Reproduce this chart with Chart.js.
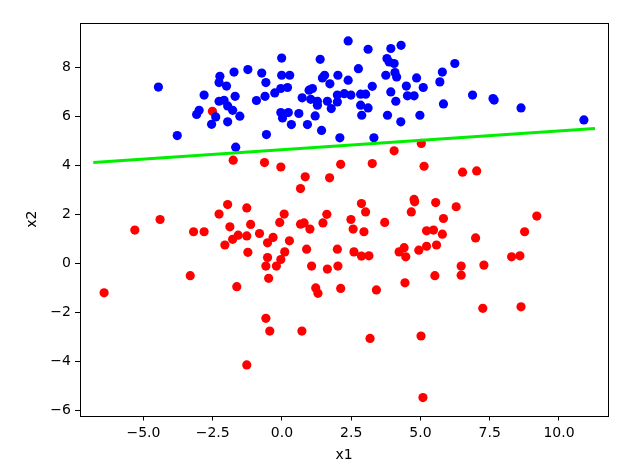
<!DOCTYPE html>
<html>
<head>
<meta charset="utf-8">
<script src="https://cdn.jsdelivr.net/npm/chart.js@4.4.1/dist/chart.umd.min.js"></script>
<style>
  html, body { margin: 0; padding: 0; background: #fff; }
  #wrap { width: 644px; height: 471px; }
</style>
</head>
<body>
<div id="wrap"><canvas id="chart" width="644" height="471"></canvas></div>
<script>
// class 1 (blue) points
const blueX = [-4.46, -3.78, -2.81, -2.99, -3.08, -2.39, -2.54, -2.24, -2.27, -2.00,
  -1.73, -1.23, -0.73, -0.58, -1.69, -2.27, -2.09, -1.96, -1.78, -1.52,
  -1.96, -0.92, -0.61, -0.56, -1.67, -0.01, -0.01, 0.28, 0.20, -0.04,
  -0.26, -0.04, 0.02, 0.23, 0.34, 0.61, 0.92, 0.73, 0.98, 1.10,
  1.04, 1.28, 1.28, 1.20, 1.43, 1.38, 1.46, 1.54, 1.73, 2.02,
  2.39, 1.64, 1.78, 2.00, 2.00, 2.25, 2.49, 2.09, 2.39, 2.76,
  2.84, 3.02, 2.84, 3.11, 2.88, 3.26, 3.11, 3.32, 3.93, 4.30,
  3.79, 3.87, 4.05, 3.75, 4.08, 4.14, 3.93, 4.11, 3.81, 4.29,
  4.49, 4.86, 5.10, 4.53, 4.77, 4.98, 5.79, 5.70, 5.83, 6.24,
  6.88, 7.62, 7.66, 8.63, 10.90];
const blueY = [7.19, 5.21, 6.86, 6.24, 6.07, 5.97, 5.67, 7.63, 7.37, 7.23,
  7.80, 7.90, 7.76, 7.37, 6.81, 6.61, 6.65, 6.42, 6.24, 6.00,
  5.77, 6.64, 6.81, 5.25, 4.74, 8.37, 7.67, 7.67, 7.17, 7.13,
  6.95, 6.15, 5.93, 6.15, 5.66, 6.11, 5.66, 6.75, 7.06, 7.13,
  6.69, 6.61, 6.45, 6.01, 5.42, 8.32, 7.56, 7.67, 7.32, 7.67,
  7.47, 6.61, 6.31, 6.86, 6.58, 6.92, 6.86, 5.12, 9.07, 7.94,
  6.90, 6.90, 6.45, 6.34, 6.04, 7.22, 8.73, 5.12, 8.76, 8.89,
  8.35, 8.21, 8.15, 7.67, 7.78, 7.60, 6.99, 6.61, 6.04, 5.77,
  7.23, 7.56, 7.17, 6.83, 6.83, 6.04, 7.80, 7.40, 6.50, 8.15,
  6.86, 6.72, 6.66, 6.34, 5.85];

// class 0 (red) points
const redX = [-2.51, -1.76, -0.63, -1.96, -2.27, -1.27, -4.40, -5.31, -3.19, -2.81,
  -1.88, -1.13, -0.81, -1.58, -1.27, -1.78, -2.06, -1.23, -0.52, -0.52,
  -0.58, -0.48, -3.31, -6.42, -1.63, -0.04, 2.12, 3.26, 4.05, 5.13,
  5.03, 0.84, 1.72, 0.67, 2.87, 3.02, 2.49, 2.57, 2.96, 3.71,
  4.77, 4.79, 4.67, 5.55, 5.83, 5.22, 5.47, 5.79, 0.08, -0.08,
  -0.32, 0.27, 0.67, 0.80, 1.01, 1.62, 1.48, 0.10, -0.04, -0.20,
  0.89, 1.07, 1.64, 2.02, 2.00, 2.60, 2.87, 3.14, 4.23, 4.41,
  4.47, 4.94, 5.22, 5.58, 5.52, 4.44, 1.22, 1.30, 2.12, 3.41,
  6.52, 7.03, 6.29, 6.99, 9.20, 8.76, 8.29, 8.59, 7.29, 6.47,
  6.47, -0.58, -0.44, -1.27, 0.72, 3.18, 5.02, 5.09, 7.25, 8.63];
const redY = [6.20, 4.21, 4.11, 2.40, 2.01, 2.26, 1.79, 1.36, 1.29, 1.29,
  1.49, 1.59, 1.22, 1.15, 1.12, 0.98, 0.75, 0.45, 0.84, 0.24,
  -0.11, -0.61, -0.50, -1.20, -0.95, 3.93, 4.04, 4.07, 4.59, 3.96,
  4.89, 3.53, 3.49, 3.05, 2.44, 2.10, 1.79, 1.40, 1.29, 1.67,
  2.61, 2.51, 2.10, 2.48, 1.83, 1.33, 1.36, 1.19, 2.01, 1.67,
  1.06, 0.92, 1.60, 1.65, 1.40, 2.00, 1.65, 0.47, 0.16, -0.11,
  0.58, -0.11, -0.23, -0.11, 0.58, 0.47, 0.30, 0.31, 0.47, 0.64,
  0.27, 0.54, 0.70, 0.75, -0.50, -0.79, -1.00, -1.22, -1.02, -1.08,
  3.72, 3.77, 2.31, 1.04, 1.93, 1.29, 0.27, 0.31, -0.07, -0.11,
  -0.48, -2.24, -2.76, -4.14, -2.76, -3.06, -2.96, -5.47, -1.83, -1.77];

// decision boundary
const lineX = [-6.81, 11.30];
const lineY = [4.11, 5.50];

const xTicks = [-5, -2.5, 0, 2.5, 5, 7.5, 10];
const yTicks = [-6, -4, -2, 0, 2, 4, 6, 8];

const zip = (xs, ys) => xs.map((x, i) => ({ x: x, y: ys[i] }));
const minus = s => s.replace('-', '\u2212');
const FONT = { family: 'DejaVu Sans', size: 14 };

// full box around the plot, like matplotlib spines
const frame = {
  id: 'frame',
  afterDatasetsDraw(chart) {
    const { ctx, chartArea: a } = chart;
    ctx.save();
    ctx.strokeStyle = '#000';
    ctx.lineWidth = 1;
    ctx.strokeRect(Math.round(a.left) + 0.5, Math.round(a.top) + 0.5,
      Math.round(a.right - a.left), Math.round(a.bottom - a.top));
    ctx.restore();
  }
};

new Chart(document.getElementById('chart'), {
  type: 'scatter',
  data: {
    datasets: [
      {
        label: 'boundary',
        data: zip(lineX, lineY),
        showLine: true,
        borderColor: '#00ee00',
        borderWidth: 3,
        pointRadius: 0,
        fill: false
      },
      {
        label: 'class 1',
        data: zip(blueX, blueY),
        backgroundColor: '#0000ff',
        borderWidth: 0,
        pointRadius: 4.6
      },
      {
        label: 'class 0',
        data: zip(redX, redY),
        backgroundColor: '#ff0000',
        borderWidth: 0,
        pointRadius: 4.6
      }
    ]
  },
  options: {
    responsive: false,
    animation: false,
    devicePixelRatio: 1,
    layout: { padding: { top: 23, right: 36, left: 0, bottom: 0 } },
    plugins: { legend: { display: false }, tooltip: { enabled: false } },
    scales: {
      x: {
        type: 'linear',
        min: -7.29,
        max: 11.77,
        afterBuildTicks: s => { s.ticks = xTicks.map(v => ({ value: v })); },
        afterFit: s => { s.height = 55.5; },
        border: { display: false },
        grid: { drawOnChartArea: false, drawTicks: true, tickLength: 5, color: '#000' },
        ticks: {
          color: '#000',
          font: FONT,
          padding: 4,
          maxRotation: 0,
          callback: v => minus(Number(v).toFixed(1))
        },
        title: { display: true, text: 'x1', color: '#000', font: FONT, padding: { top: 0, bottom: 7 } }
      },
      y: {
        type: 'linear',
        min: -6.2,
        max: 9.8,
        afterBuildTicks: s => { s.ticks = yTicks.map(v => ({ value: v })); },
        afterFit: s => { s.width = 80; },
        border: { display: false },
        grid: { drawOnChartArea: false, drawTicks: true, tickLength: 5, color: '#000' },
        ticks: {
          color: '#000',
          font: FONT,
          padding: 4,
          callback: v => minus(String(v))
        },
        title: { display: true, text: 'x2', color: '#000', font: FONT, padding: { top: 24, bottom: 0 } }
      }
    }
  },
  plugins: [frame]
});
</script>
</body>
</html>
